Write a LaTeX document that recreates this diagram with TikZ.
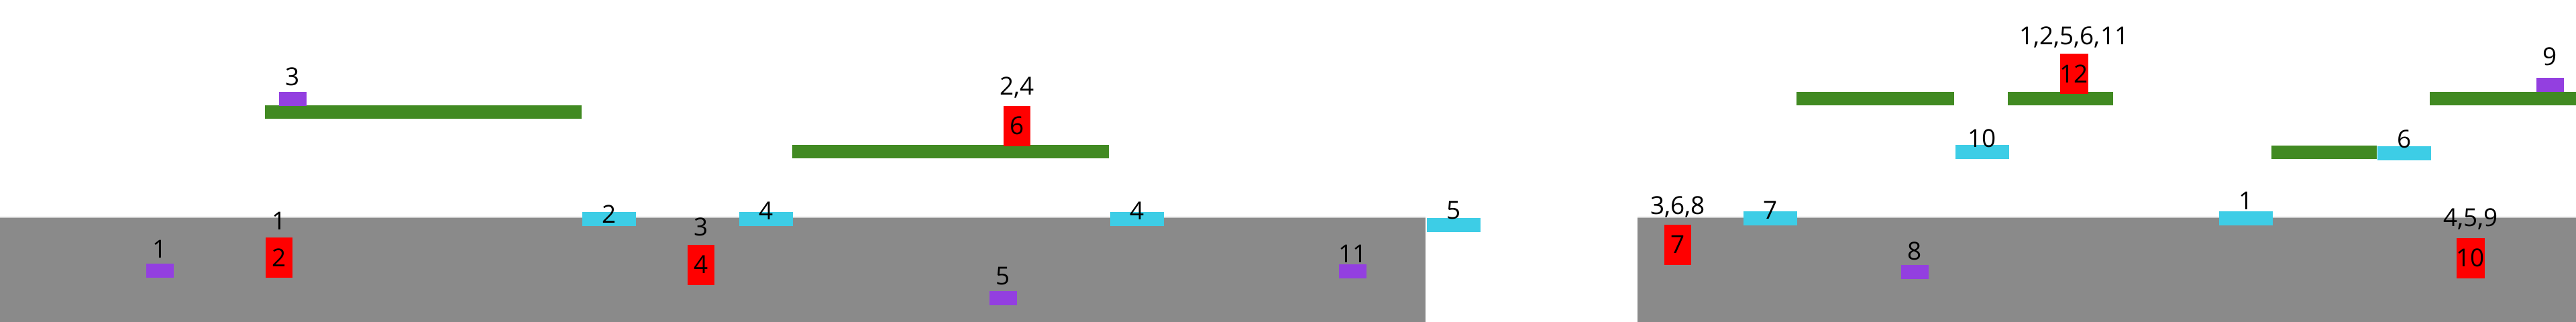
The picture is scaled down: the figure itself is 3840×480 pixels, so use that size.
\documentclass[tikz,border=0pt]{standalone}
\usepackage{fontspec}
\setmainfont{Open Sans}
\usetikzlibrary{positioning}
\definecolor{groundgray}{HTML}{8A8A8A}
\definecolor{rimgray}{HTML}{CDCDCD}
\definecolor{deckgreen}{HTML}{418A22}
\definecolor{padcyan}{HTML}{3DCDE6}
\definecolor{markpurple}{HTML}{933FE0}

\begin{document}
\begin{tikzpicture}[
    x=0.1mm, y=-0.1mm,
    font=\fontsize{10.5pt}{12pt}\selectfont,
    block/.style={
        rectangle,
        inner sep=0pt,
        anchor=north west
    },
    pier/.style={
        block,
        fill=red,
        minimum width=4mm,
        minimum height=6mm
    },
    pad/.style={
        block,
        fill=padcyan,
        minimum width=8mm,
        minimum height=2.1mm
    },
    marker/.style={
        block,
        fill=markpurple,
        minimum width=4.1mm,
        minimum height=2.1mm
    },
    tag/.style={
        inner sep=0pt,
        text depth=0pt,
        text=black
    },
    ground/.style={fill=groundgray},
    rim/.style={draw=rimgray, line width=0.12mm},
    deck/.style={fill=deckgreen}
]

\useasboundingbox (0,0) rectangle (3840,480);

\fill[ground] (0,324) rectangle (2125,480);
\fill[ground] (2441,324) rectangle (3840,480);
\draw[rim] (0,324) -- (2125,324);
\draw[rim] (2441,324) -- (3840,324);

\fill[deck] (395,157) rectangle (867,177);
\fill[deck] (1181,216) rectangle (1653,236);
\fill[deck] (2678,137) rectangle (2913,157);
\fill[deck] (2993,137) rectangle (3150,157);
\fill[deck] (3622,137) rectangle (3840,157);
\fill[deck] (3386,217) rectangle (3543,237);

\node[pier] (p2) at (395,353) {2};
\node[pier] (p4) at (1024,364) {4};
\node[pier] (p6) at (1495,157) {6};
\node[pier] (p7) at (2480,334) {7};
\node[pier] (p12) at (3070,79) {12};
\node[pier] (p10) at (3661,354) {10};

\node[marker] (m1) at (217,392) {};
\node[marker] (m3) at (415,136) {};
\node[marker] (m5) at (1474,433) {};
\node[marker] (m11) at (1995,393) {};
\node[marker] (m8) at (2833,394) {};
\node[marker] (m9) at (3780,115) {};

\node[pad] (c2) at (867,315) {};
\node[pad] (c4a) at (1101,315) {};
\node[pad] (c4b) at (1654,315) {};
\node[pad] (c5) at (2126,324) {};
\node[pad] (c7) at (2598,314) {};
\node[pad] (c10) at (2914,215) {};
\node[pad] (c1) at (3307,314) {};
\node[pad] (c6) at (3543,217) {};

\node[tag, above=1mm of p2] {1};
\node[tag, above=1.2mm of p4] {3};
\node[tag, above=1.5mm of p6] {2,4};
\node[tag, above=1.4mm of p7] {3,6,8};
\node[tag, above=1.2mm of p12] {1,2,5,6,11};
\node[tag, above=1.6mm of p10] {4,5,9};

\node[tag, above=0.7mm of m1] {1};
\node[tag, above=0.8mm of m3] {3};
\node[tag, above=0.8mm of m5] {5};
\node[tag, above=0.1mm of m11] {11};
\node[tag, above=0.6mm of m8] {8};
\node[tag, above=1.7mm of m9] {9};

\node[tag, above=-1.8mm of c2] {2};
\node[tag, above=-1.3mm of c4a] {4};
\node[tag, above=-1.3mm of c4b] {4};
\node[tag, above=-0.3mm of c5] {5};
\node[tag, above=-1.3mm of c7] {7};
\node[tag, above=-0.5mm of c10] {10};
\node[tag, above=0.1mm of c1] {1};
\node[tag, above=-0.4mm of c6] {6};

\end{tikzpicture}
\end{document}
